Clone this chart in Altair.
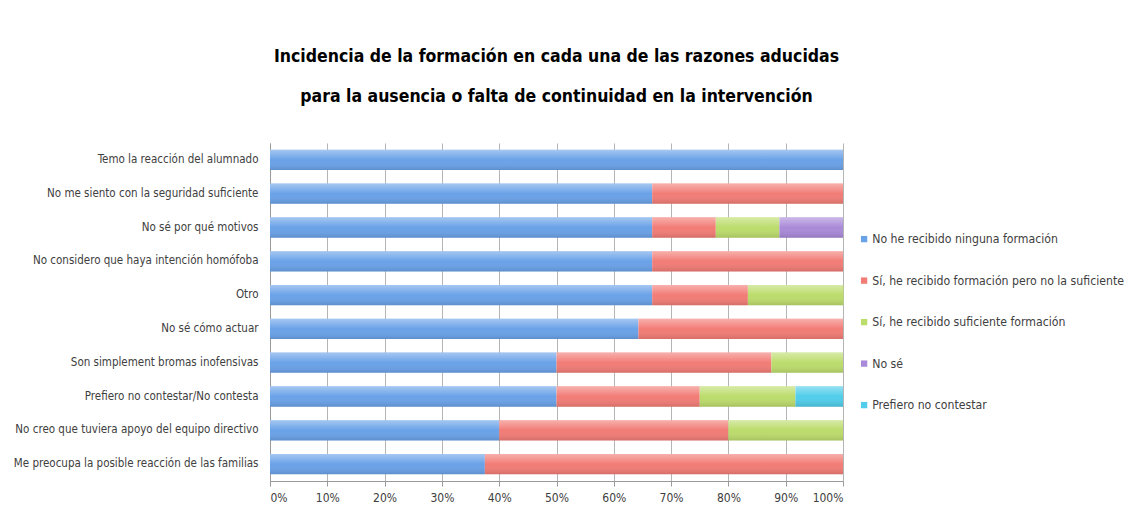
import altair as alt
import pandas as pd

categories = [
    "Temo la reacción del alumnado",
    "No me siento con la seguridad suficiente",
    "No sé por qué motivos",
    "No considero que haya intención homófoba",
    "Otro",
    "No sé cómo actuar",
    "Son simplement bromas inofensivas",
    "Prefiero no contestar/No contesta",
    "No creo que tuviera apoyo del equipo directivo",
    "Me preocupa la posible reacción de las familias",
]

series = [
    "No he recibido ninguna formación",
    "Sí, he recibido formación pero no la suficiente",
    "Sí, he recibido suficiente formación",
    "No sé",
    "Prefiero no contestar",
]

ninguna = [1.0, 0.667, 0.667, 0.667, 0.667, 0.643, 0.50, 0.50, 0.40, 0.375]
insuficiente = [0.0, 0.333, 0.111, 0.333, 0.167, 0.357, 0.375, 0.25, 0.40, 0.625]
suficiente = [0.0, 0.0, 0.111, 0.0, 0.167, 0.0, 0.125, 0.167, 0.20, 0.0]
no_se = [0.0, 0.0, 0.111, 0.0, 0.0, 0.0, 0.0, 0.0, 0.0, 0.0]
prefiero = [0.0, 0.0, 0.0, 0.0, 0.0, 0.0, 0.0, 0.083, 0.0, 0.0]

colors = ["#6aa2e8", "#f27c76", "#bcdc6c", "#a98ad8", "#50cdea"]

values = [ninguna, insuficiente, suficiente, no_se, prefiero]
rows = []
for si, (s, vals) in enumerate(zip(series, values)):
    for c, v in zip(categories, vals):
        rows.append({"razon": c, "serie": s, "valor": v, "orden": si})
df = pd.DataFrame(rows)

overlay_df = pd.DataFrame({"razon": categories, "inicio": [0.0] * len(categories),
                           "fin": [1.0] * len(categories)})

FONT = "'DejaVu Sans Condensed', 'Liberation Sans Narrow', sans-serif"

bars = alt.Chart(df).mark_bar().encode(
    y=alt.Y("razon:N", sort=categories, title=None,
            scale=alt.Scale(paddingInner=0.4, paddingOuter=0.2),
            axis=alt.Axis(labelFontSize=11.5, labelColor="#404040", ticks=False,
                          domain=True, domainColor="#9a9a9a", labelPadding=12,
                          labelLimit=300, minExtent=262, maxExtent=262, labelFont=FONT)),
    x=alt.X("valor:Q", stack="zero", title=None,
            scale=alt.Scale(domain=[0, 1], nice=False),
            axis=alt.Axis(format="%", values=[i / 10 for i in range(11)],
                          labelFontSize=12, labelColor="#404040", labelFont=FONT,
                          grid=True, gridColor="#b5b5b5", domainColor="#9a9a9a",
                          tickColor="#9a9a9a", tickSize=5, labelPadding=6)),
    color=alt.Color("serie:N", sort=series,
                    scale=alt.Scale(domain=series, range=colors),
                    legend=alt.Legend(title=None, orient="none", legendX=588, legendY=90,
                                      symbolType="square", symbolSize=40,
                                      symbolStrokeWidth=0, labelFontSize=12.2,
                                      labelColor="#404040", labelFont=FONT,
                                      rowPadding=28.5, labelLimit=400, labelOffset=2)),
    order=alt.Order("orden:Q"),
)

shade = alt.Chart(overlay_df).mark_bar(
    fill=alt.Gradient(
        gradient="linear", x1=0, x2=0, y1=0, y2=1,
        stops=[alt.GradientStop(color="rgba(255,255,255,0.40)", offset=0),
               alt.GradientStop(color="rgba(255,255,255,0.0)", offset=0.5),
               alt.GradientStop(color="rgba(0,0,0,0.12)", offset=1)]),
).encode(
    y=alt.Y("razon:N", sort=categories),
    x=alt.X("inicio:Q"),
    x2="fin:Q",
)

chart = alt.layer(bars, shade).properties(
    width=573, height=338,
    padding={"left": 0, "top": 40, "right": 0, "bottom": 0},
    title=alt.Title(
        ["Incidencia de la formación en cada una de las razones aducidas",
         "para la ausencia o falta de continuidad en la intervención"],
        fontSize=17.5, font=FONT, fontWeight="bold", color="#000000",
        lineHeight=40, anchor="middle", offset=37.5),
).configure_view(stroke=None)

chart.save("out.html", embed_options={"renderer": "svg", "actions": False})
